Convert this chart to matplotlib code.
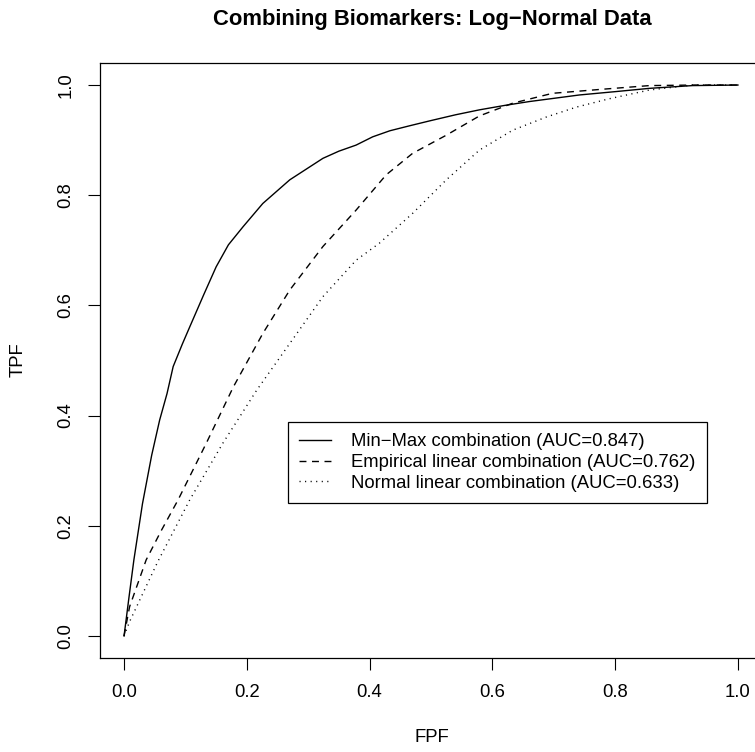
import matplotlib
matplotlib.use("Agg")
import matplotlib.pyplot as plt

plt.rcParams['font.family'] = ['Liberation Sans', 'DejaVu Sans']

# ROC curves
minmax_fpf = [0, 0.008, 0.016, 0.03, 0.045, 0.058, 0.07, 0.08, 0.095, 0.107, 0.13, 0.15, 0.17,
              0.194, 0.226, 0.27, 0.324, 0.35, 0.378, 0.405, 0.433, 0.465, 0.498, 0.54, 0.579,
              0.62, 0.66, 0.742, 0.80, 0.856, 0.926, 1.0]
minmax_tpf = [0, 0.07, 0.138, 0.24, 0.328, 0.392, 0.44, 0.489, 0.53, 0.561, 0.62, 0.670, 0.71,
              0.743, 0.785, 0.828, 0.867, 0.88, 0.891, 0.906, 0.917, 0.926, 0.935, 0.946, 0.955,
              0.963, 0.970, 0.982, 0.988, 0.994, 0.999, 1.0]

emp_fpf = [0, 0.009, 0.036, 0.06, 0.088, 0.134, 0.178, 0.226, 0.27, 0.324, 0.378, 0.427, 0.47,
           0.525, 0.579, 0.633, 0.698, 0.775, 0.856, 0.93, 1.0]
emp_tpf = [0, 0.053, 0.138, 0.19, 0.247, 0.350, 0.452, 0.549, 0.628, 0.707, 0.773, 0.837, 0.876,
           0.909, 0.944, 0.967, 0.985, 0.992, 0.999, 1.0, 1.0]

norm_fpf = [0, 0.009, 0.055, 0.107, 0.161, 0.216, 0.27, 0.324, 0.378, 0.416, 0.47, 0.525, 0.579,
            0.633, 0.688, 0.737, 0.79, 0.856, 0.926, 1.0]
norm_tpf = [0, 0.026, 0.135, 0.247, 0.350, 0.446, 0.531, 0.616, 0.682, 0.713, 0.767, 0.828, 0.882,
            0.918, 0.942, 0.96, 0.975, 0.991, 1.0, 1.0]

labels = ["Min\u2212Max combination (AUC=0.847)",
          "Empirical linear combination (AUC=0.762)",
          "Normal linear combination (AUC=0.633)"]
ticks = [0.0, 0.2, 0.4, 0.6, 0.8, 1.0]

W, H = 755, 752
fs = 13.3
fig = plt.figure(figsize=(W / 100, H / 100), dpi=100)
ax = fig.add_axes([99.5 / W, 94 / H, 663 / W, 595 / H])

ax.plot(minmax_fpf, minmax_tpf, color='black', lw=1, label=labels[0])
ax.plot(emp_fpf, emp_tpf, color='black', lw=1, dashes=(5, 4), label=labels[1])
ax.plot(norm_fpf, norm_tpf, color='black', lw=1, dashes=(0.8, 3.2), label=labels[2])

ax.set_xlim(-0.04, 1.04)
ax.set_ylim(-0.04, 1.04)
ax.set_xticks(ticks)
ax.set_yticks(ticks)
ax.set_xticklabels([f"{t:.1f}" for t in ticks])
ax.set_yticklabels([f"{t:.1f}" for t in ticks], rotation=90, va='center')
ax.tick_params(direction='out', length=8.5, width=0.8, labelsize=fs)
ax.tick_params(axis='x', pad=10.5)
ax.tick_params(axis='y', pad=9.5)
for s in ax.spines.values():
    s.set_linewidth(0.9)

leg = ax.legend(loc='upper left', bbox_to_anchor=(288 / W, 1 - 422 / H),
                bbox_transform=fig.transFigure, fontsize=fs, frameon=True,
                fancybox=False, edgecolor='black', framealpha=1, borderaxespad=0,
                handlelength=1.7, handletextpad=1.1, labelspacing=0.2, borderpad=0.62)
leg.get_frame().set_linewidth(0.9)

fig.text(432 / W, 1 - 19 / H, "Combining Biomarkers: Log\u2212Normal Data",
         ha='center', va='center', fontsize=15.8, fontweight='bold')
fig.text(432 / W, 1 - 737 / H, "FPF", ha='center', va='center', fontsize=fs)
fig.text(18 / W, 1 - 360 / H, "TPF", ha='center', va='center', fontsize=fs, rotation=90)

fig.savefig("out.png", dpi=100)
